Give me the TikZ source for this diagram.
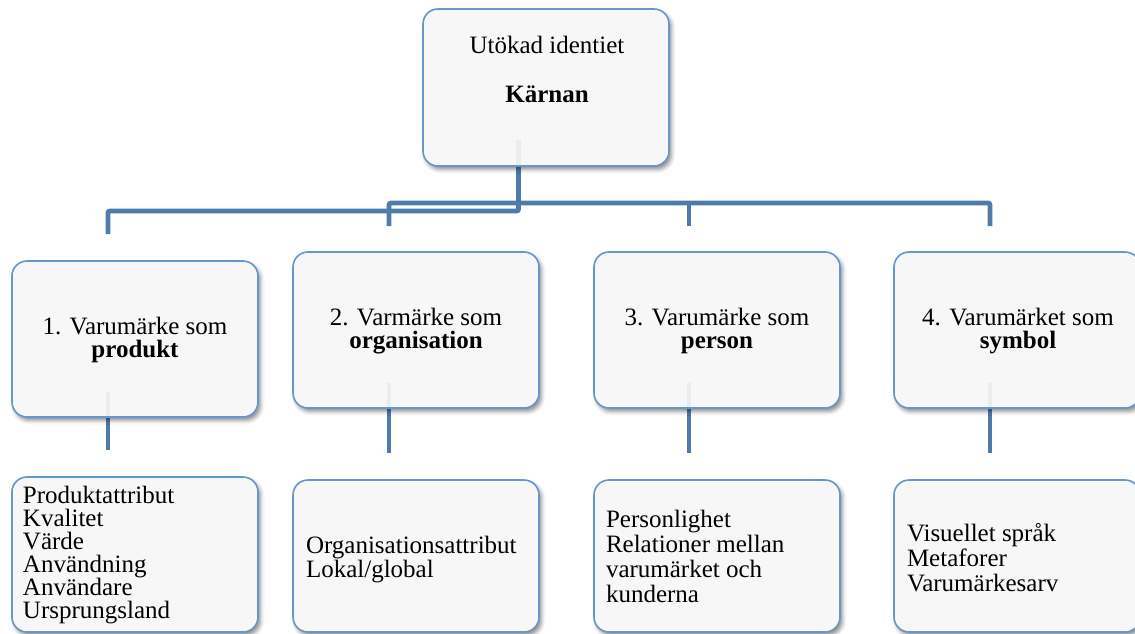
\documentclass[tikz,border=0pt]{standalone}
\usepackage{fontspec}
\setmainfont{Liberation Serif}
\usetikzlibrary{shadows.blur,backgrounds}

\definecolor{boxline}{RGB}{102,150,204}
\definecolor{boxfill}{RGB}{247,247,247}
\definecolor{connline}{RGB}{78,123,170}

\tikzset{
  box/.style={draw=boxline, line width=1.6pt, fill=boxfill,
    rounded corners=15pt, minimum width=246pt, inner sep=0pt, outer sep=0pt,
    blur shadow={shadow xshift=2.5pt, shadow yshift=-3.5pt, shadow blur radius=4pt,
      shadow opacity=45}},
  conn/.style={draw=connline, line width=4.8pt, rounded corners=2pt},
  stub/.style={draw=connline, line width=4.8pt, draw opacity=0.08},
  lbl/.style={inner sep=0pt, outer sep=0pt, text=black},
  headtxt/.style={lbl, align=center, font=\fontsize{25}{23}\selectfont},
  listtxt/.style={lbl, align=left, anchor=north west}
}

\begin{document}
\begin{tikzpicture}[x=1pt, y=-1pt]
\useasboundingbox (0,0) rectangle (1135,634);

% boxes
\node[box, minimum height=157pt] (top) at (546,87.5) {};
\node[box, minimum height=156pt] (c1) at (135,339) {};
\node[box, minimum height=156pt] (c2) at (416,330) {};
\node[box, minimum height=156pt] (c3) at (717,330) {};
\node[box, minimum height=156pt] (c4) at (1017,330) {};
\node[box, minimum height=155pt] (d1) at (135,554.5) {};
\node[box, minimum height=152pt] (d2) at (416,556) {};
\node[box, minimum height=152pt] (d3) at (717,556) {};
\node[box, minimum height=152pt] (d4) at (1017,556) {};

% connectors, drawn beneath the boxes
\begin{scope}[on background layer]
  \draw[conn] ([xshift=-27.5pt]top.south)
     |- ([xshift=-27pt,yshift=50pt]c1.north)
     -- ([xshift=-27pt,yshift=27pt]c1.north);
  \draw[conn] ([xshift=-27pt,yshift=26pt]c2.north)
     -- ([xshift=-27pt,yshift=49pt]c2.north)
     -| ([xshift=-27pt,yshift=26pt]c4.north);
  \draw[conn] ([xshift=-28pt,yshift=26pt]c3.north)
     -- ([xshift=-28pt,yshift=49pt]c3.north);
  \draw[conn] ([xshift=-27pt]c1.south) -- ([xshift=-27pt,yshift=27pt]d1.north);
  \draw[conn] ([xshift=-27pt]c2.south) -- ([xshift=-27pt,yshift=27pt]d2.north);
  \draw[conn] ([xshift=-28pt]c3.south) -- ([xshift=-28pt,yshift=27pt]d3.north);
  \draw[conn] ([xshift=-27pt]c4.south) -- ([xshift=-27pt,yshift=27pt]d4.north);
\end{scope}

% connector ends showing faintly through the boxes
\draw[stub] ([xshift=-27.5pt,yshift=26pt]top.south) -- ([xshift=-27.5pt,yshift=0.8pt]top.south);
\draw[stub] ([xshift=-27pt,yshift=25pt]c1.south) -- ([xshift=-27pt,yshift=0.8pt]c1.south);
\draw[stub] ([xshift=-27pt,yshift=25pt]c2.south) -- ([xshift=-27pt,yshift=0.8pt]c2.south);
\draw[stub] ([xshift=-28pt,yshift=25pt]c3.south) -- ([xshift=-28pt,yshift=0.8pt]c3.south);
\draw[stub] ([xshift=-27pt,yshift=25pt]c4.south) -- ([xshift=-27pt,yshift=0.8pt]c4.south);

% texts
\node[lbl, anchor=base, font=\fontsize{25}{30}\selectfont] (t1) at (547,54) {Utökad identiet};
\node[lbl, anchor=base, font=\fontsize{25}{30}\selectfont\bfseries] (t2) at (547,102) {Kärnan};

\node[headtxt] (h1) at (135,340) {1. Varumärke som\\\textbf{produkt}};
\node[headtxt] (h2) at (416,331) {2. Varmärke som\\\textbf{organisation}};
\node[headtxt] (h3) at (717,331) {3. Varumärke som\\\textbf{person}};
\node[headtxt] (h4) at (1018,331) {4. Varumärket som\\\textbf{symbol}};

\node[listtxt, font=\fontsize{25}{23}\selectfont] (l1) at (23,486)
  {Produktattribut\\Kvalitet\\Värde\\Användning\\Användare\\Ursprungsland};
\node[listtxt, font=\fontsize{25}{24}\selectfont] (l2) at (306,536)
  {Organisationsattribut\\Lokal/global};
\node[listtxt, font=\fontsize{25}{25}\selectfont] (l3) at (606,510)
  {Personlighet\\Relationer mellan\\varumärket och\\kunderna};
\node[listtxt, font=\fontsize{25}{25}\selectfont] (l4) at (907,523)
  {Visuellet språk\\Metaforer\\Varumärkesarv};
\end{tikzpicture}
\end{document}
